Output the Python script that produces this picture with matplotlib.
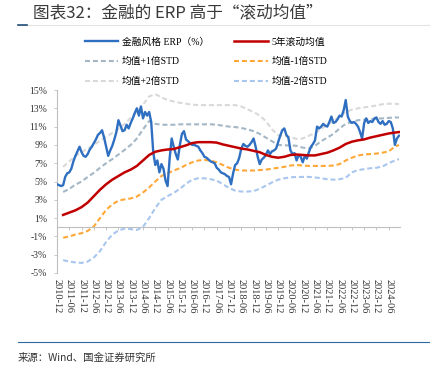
import pandas as pd
import matplotlib
matplotlib.use("Agg")
import matplotlib.pyplot as plt
from matplotlib.lines import Line2D

plt.rcParams['font.family'] = ['Liberation Serif', 'Noto Sans CJK SC']
plt.rcParams['axes.unicode_minus'] = False

# --- data (values in %) ---
erp_start = "2010-12"
erp = [
    4.7, 4.6, 4.5, 4.6, 5.5, 5.9, 6.0, 6.4, 7.2, 7.8,
    8.3, 8.8, 8.2, 7.8, 7.7, 8.0, 8.5, 8.8, 9.2, 9.6,
    10.1, 10.3, 10.6, 9.8, 8.8, 7.8, 8.4, 8.9, 9.6, 10.4,
    11.7, 11.1, 10.5, 10.6, 11.2, 10.8, 11.4, 11.9, 12.5, 13.0,
    12.2, 13.2, 11.9, 12.6, 12.2, 12.6, 11.5, 8.2, 6.8, 7.3,
    6.0, 6.9, 6.4, 5.1, 4.5, 7.5, 9.7, 8.8, 8.0, 7.4,
    9.0, 10.2, 10.5, 9.6, 9.4, 9.2, 9.0, 9.0, 8.9, 8.8,
    8.4, 8.1, 7.7, 7.6, 7.4, 7.2, 7.1, 7.0, 6.5, 6.3,
    6.0, 5.9, 5.8, 5.6, 5.5, 4.7, 5.9, 6.8, 7.0, 7.6,
    8.6, 9.1, 8.9, 8.8, 9.0, 9.3, 9.7, 8.8, 7.7, 6.9,
    7.4, 7.6, 7.9, 8.4, 8.0, 8.3, 8.4, 8.6, 9.3, 10.0,
    10.6, 10.8, 10.1, 9.8, 8.4, 8.0, 8.1, 7.3, 7.9, 7.7,
    7.1, 7.8, 7.5, 8.2, 8.8, 9.1, 9.5, 11.0, 10.8, 11.0,
    11.3, 11.1, 11.0, 11.5, 12.1, 11.4, 11.5, 11.8, 12.2, 12.1,
    12.8, 13.9, 12.1, 11.6, 11.4, 11.5, 11.3, 11.0, 10.4, 9.7,
    11.4, 11.9, 11.4, 11.6, 11.5, 11.9, 12.0, 11.5, 11.3, 11.6,
    11.2, 11.3, 11.6, 11.5, 10.8, 9.0, 9.7, 10.0,
]

# rolling mean and bands, read roughly every quarter
band_start = "2011-03"
band_last = "2024-11"
mean_5y = [
    1.35, 1.6, 1.85, 2.2, 2.7, 3.4, 4.1, 4.7, 5.2, 5.6,
    6.0, 6.3, 6.7, 7.3, 7.9, 8.25, 8.4, 8.5, 8.55, 8.75,
    8.95, 9.2, 9.3, 9.3, 9.3, 9.25, 9.05, 8.9, 8.75, 8.6,
    8.5, 8.35, 8.2, 7.9, 7.7, 7.6, 7.7, 7.9, 7.95, 7.9,
    7.85, 7.85, 8.0, 8.15, 8.4, 8.7, 9.1, 9.35, 9.5, 9.6,
    9.8, 9.95, 10.1, 10.25, 10.35, 10.4,
]
plus_1std = [
    3.85, 4.2, 4.65, 5.0, 5.5, 5.95, 6.5, 7.0, 7.45, 7.95,
    8.45, 9.0, 9.7, 10.7, 11.6, 11.3, 11.2, 11.2, 11.2, 11.25,
    11.25, 11.25, 11.25, 11.25, 11.25, 11.2, 11.1, 11.0, 10.95, 10.85,
    10.7, 10.5, 10.2, 9.8, 9.4, 9.0, 8.95, 8.95, 8.9, 8.7,
    8.6, 8.9, 9.4, 9.8, 10.2, 10.8, 11.3, 11.5, 11.7, 11.75,
    11.8, 11.85, 11.9, 11.95, 12.0, 12.0,
]
plus_2std = [
    6.6, 7.2, 7.8, 8.2, 8.6, 9.0, 9.45, 9.9, 10.3, 10.75,
    11.3, 11.95, 12.6, 13.4, 14.3, 14.55, 14.2, 13.9, 13.75, 13.6,
    13.5, 13.4, 13.35, 13.35, 13.35, 13.35, 13.35, 13.35, 13.35, 13.2,
    12.9, 12.6, 12.2, 11.6, 10.7, 10.05, 10.0, 9.85, 9.65, 9.7,
    10.0, 10.3, 10.75, 11.2, 11.6, 12.1, 12.6, 12.85, 13.0, 13.1,
    13.2, 13.3, 13.45, 13.5, 13.5, 13.45,
]
minus_1std = [
    -1.15, -1.0, -0.8, -0.65, -0.4, 0.1, 1.0, 1.9, 2.5, 2.9,
    3.05, 3.15, 3.35, 3.8, 4.35, 5.0, 5.6, 5.9, 6.2, 6.45,
    6.8, 7.1, 7.3, 7.35, 7.3, 7.1, 6.8, 6.5, 6.3, 6.2,
    6.2, 6.2, 6.25, 6.3, 6.4, 6.5, 6.6, 6.75, 6.8, 6.75,
    6.7, 6.7, 6.7, 6.7, 6.75, 6.9, 7.3, 7.6, 7.85, 7.95,
    8.0, 8.05, 8.15, 8.3, 8.8, 9.0,
]
minus_2std = [
    -3.6, -3.75, -3.85, -3.9, -3.75, -3.3, -2.6, -1.6, -0.8, -0.35,
    -0.15, -0.2, -0.3, 0.05, 1.0, 2.1, 3.0, 3.4, 3.75, 4.2,
    4.75, 5.2, 5.35, 5.35, 5.25, 5.1, 4.7, 4.3, 4.0, 3.9,
    3.9, 3.95, 4.2, 4.55, 4.9, 5.2, 5.35, 5.45, 5.5, 5.5,
    5.5, 5.45, 5.35, 5.25, 5.2, 5.25, 5.4, 6.0, 6.25, 6.35,
    6.45, 6.5, 6.65, 7.0, 7.3, 7.45,
]

tick_labels = [str(p) for p in pd.period_range("2010-12", "2024-06", freq="6M")]
y_ticks = list(range(-5, 16, 2))


def month_index(p):
    p = pd.Period(p, freq="M")
    base = pd.Period(erp_start, freq="M")
    return (p.year - base.year) * 12 + (p.month - base.month)


erp_x = [month_index(p) for p in pd.period_range(erp_start, periods=len(erp), freq="M")]
band_periods = list(pd.period_range(band_start, periods=len(mean_5y) - 1, freq="3M")) + [band_last]
band_x = [month_index(p) for p in band_periods]
tick_x = [month_index(p) for p in tick_labels]

fig = plt.figure(figsize=(4.3, 3.73), dpi=100)
ax = fig.add_axes([57 / 430, 1 - 273 / 373, (400 - 57) / 430, (273 - 90) / 373])

dash = (2.4, 1.4)
l_p2, = ax.plot(band_x, plus_2std, color="#D9D9D9", lw=1.5, dashes=dash, zorder=2)
l_m2, = ax.plot(band_x, minus_2std, color="#A9C6EE", lw=1.5, dashes=dash, zorder=2)
l_p1, = ax.plot(band_x, plus_1std, color="#A4B7C6", lw=1.5, dashes=dash, zorder=2)
l_m1, = ax.plot(band_x, minus_1std, color="#FFA838", lw=1.5, dashes=dash, zorder=2)
l_erp, = ax.plot(erp_x, erp, color="#2F6FC2", lw=1.7, zorder=3)
l_mean, = ax.plot(band_x, mean_5y, color="#C00000", lw=1.8, zorder=4)

ax.set_xlim(0, len(erp) - 0.5)
ax.set_ylim(-5, 15)
ax.set_yticks(y_ticks)
ax.set_yticklabels([f"{v}%" for v in y_ticks])
ax.set_xticks(tick_x)
ax.set_xticklabels(tick_labels)

for s in ["top", "right"]:
    ax.spines[s].set_visible(False)
ax.spines["left"].set_color("#BFBFBF")
ax.spines["left"].set_linewidth(0.8)
ax.spines["bottom"].set_position(("data", 0))
ax.spines["bottom"].set_color("#BFBFBF")
ax.spines["bottom"].set_linewidth(0.8)
ax.tick_params(axis="y", direction="out", length=2, width=0.6, color="#BFBFBF",
               labelsize=7, labelcolor="#333333", pad=5)
ax.tick_params(axis="x", direction="out", length=2.5, width=0.6, color="#BFBFBF",
               labelsize=7.5, labelcolor="#333333", pad=35, labelrotation=-90)

fig.legend(
    [l_erp, l_p1, l_p2, l_mean, l_m1, l_m2],
    ["金融风格 ERP（%）", "均值+1倍STD", "均值+2倍STD", "5年滚动均值", "均值-1倍STD", "均值-2倍STD"],
    ncol=2, loc="upper left", bbox_to_anchor=(85 / 430, 1 - 37 / 373),
    frameon=False, fontsize=7, handlelength=3.4, handletextpad=0.4,
    columnspacing=2.6, labelspacing=1.1, borderpad=0, borderaxespad=0,
)

fig.text(33 / 430, 1 - 13 / 373, "图表32：金融的 ERP 高于“滚动均值”",
         family=["Noto Sans CJK SC"], fontsize=12, color="#3A3A3A", va="center")
fig.add_artist(Line2D([18 / 430, 1], [1 - 25 / 373] * 2, color="#E3E3E3", lw=0.8))
fig.add_artist(Line2D([18 / 430, 27 / 430], [1 - 25 / 373] * 2, color="#1F4E79", lw=1.2))
fig.add_artist(Line2D([18 / 430, 1], [1 - 342 / 373] * 2, color="#2E6A9E", lw=0.8))
fig.text(18 / 430, 1 - 358 / 373, "来源：Wind、国金证券研究所",
         family=["Noto Sans CJK SC"], fontsize=7.5, color="#333333", va="center")

fig.savefig("out.png", dpi=100)
